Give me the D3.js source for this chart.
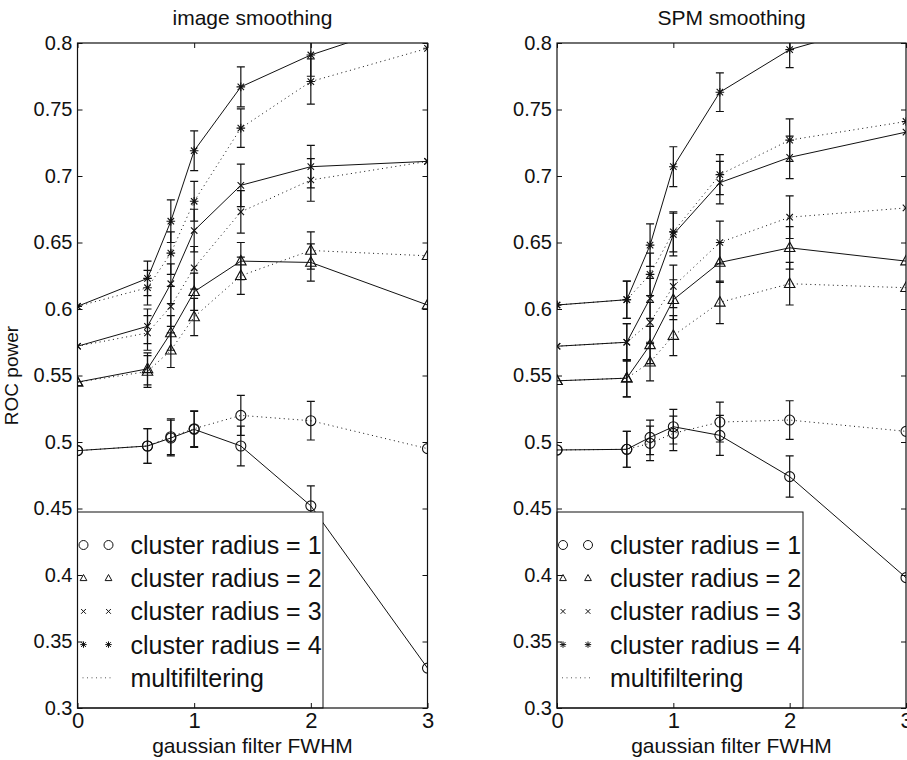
<!DOCTYPE html>
<html>
<head>
<meta charset="utf-8">
<title>ROC power vs gaussian filter FWHM</title>
<script src="https://d3js.org/d3.v7.min.js"></script>
<style>
  body { margin: 0; background: #fff; }
  svg { display: block; font-family: "Liberation Sans", Arial, Helvetica, sans-serif; }
</style>
</head>
<body>
<svg id="chart" width="907" height="760"></svg>
<script>
// x positions shared by every series
const fwhm = [0, 0.6, 0.8, 1, 1.4, 2, 3];
const xTickValues = [0, 1, 2, 3];
const yTickValues = [0.3, 0.35, 0.4, 0.45, 0.5, 0.55, 0.6, 0.65, 0.7, 0.75, 0.8];
const panelTitles = ["image smoothing", "SPM smoothing"];
const legendLabels = ["cluster radius = 1", "cluster radius = 2", "cluster radius = 3", "cluster radius = 4", "multifiltering"];
const markerTypes = ["circle", "triangle", "cross", "star"];

// image smoothing (solid) and multifiltering (dotted)
const imgR1 = [0.4935, 0.497, 0.503, 0.5095, 0.497, 0.452, 0.33];
const imgR1Multi = [0.4935, 0.497, 0.504, 0.510, 0.520, 0.516, 0.495];
const imgR2 = [0.545, 0.555, 0.582, 0.613, 0.636, 0.635, 0.603];
const imgR2Multi = [0.545, 0.553, 0.569, 0.594, 0.625, 0.644, 0.640];
const imgR3 = [0.572, 0.587, 0.619, 0.659, 0.693, 0.707, 0.711];
const imgR3Multi = [0.572, 0.582, 0.602, 0.631, 0.673, 0.697, 0.711];
const imgR4 = [0.602, 0.623, 0.666, 0.719, 0.767, 0.791, 0.82];
const imgR4Multi = [0.602, 0.616, 0.642, 0.681, 0.736, 0.771, 0.796];

const imgR1Err = [0, 0.013, 0.0135, 0.0135, 0.015, 0.015, 0];
const imgR1MultiErr = [0, 0.013, 0.0135, 0.0135, 0.015, 0.0145, 0];
const imgR2Err = [0, 0.012, 0.013, 0.014, 0.014, 0.014, 0];
const imgR2MultiErr = [0, 0.012, 0.013, 0.014, 0.014, 0.014, 0];
const imgR3Err = [0, 0.013, 0.015, 0.016, 0.016, 0.016, 0];
const imgR3MultiErr = [0, 0.013, 0.015, 0.016, 0.016, 0.016, 0];
const imgR4Err = [0, 0.013, 0.016, 0.015, 0.015, 0.016, 0];
const imgR4MultiErr = [0, 0.013, 0.016, 0.015, 0.0145, 0.017, 0];

// SPM smoothing
const spmR1 = [0.494, 0.4945, 0.5035, 0.5115, 0.505, 0.474, 0.398];
const spmR1Multi = [0.494, 0.4945, 0.499, 0.5065, 0.515, 0.5165, 0.508];
const spmR2 = [0.546, 0.548, 0.573, 0.607, 0.635, 0.646, 0.636];
const spmR2Multi = [0.546, 0.548, 0.560, 0.580, 0.605, 0.619, 0.616];
const spmR3 = [0.572, 0.575, 0.608, 0.656, 0.695, 0.714, 0.733];
const spmR3Multi = [0.572, 0.575, 0.590, 0.617, 0.650, 0.669, 0.676];
const spmR4 = [0.603, 0.607, 0.648, 0.707, 0.763, 0.795, 0.82];
const spmR4Multi = [0.603, 0.607, 0.626, 0.658, 0.701, 0.727, 0.741];

const spmR1Err = [0, 0.0135, 0.013, 0.013, 0.015, 0.0155, 0];
const spmR1MultiErr = [0, 0.0135, 0.013, 0.013, 0.015, 0.0145, 0];
const spmR2Err = [0, 0.014, 0.014, 0.015, 0.015, 0.016, 0];
const spmR2MultiErr = [0, 0.014, 0.014, 0.015, 0.016, 0.016, 0];
const spmR3Err = [0, 0.014, 0.015, 0.016, 0.016, 0.016, 0];
const spmR3MultiErr = [0, 0.014, 0.015, 0.016, 0.016, 0.016, 0];
const spmR4Err = [0, 0.014, 0.016, 0.015, 0.0145, 0.0135, 0];
const spmR4MultiErr = [0, 0.014, 0.016, 0.015, 0.015, 0.016, 0];

const panels = [
  {
    id: "img", title: panelTitles[0], left: 77.5, right: 427.5, legendRight: 323, ylabel: true,
    series: [
      [imgR1, imgR1Err, imgR1Multi, imgR1MultiErr],
      [imgR2, imgR2Err, imgR2Multi, imgR2MultiErr],
      [imgR3, imgR3Err, imgR3Multi, imgR3MultiErr],
      [imgR4, imgR4Err, imgR4Multi, imgR4MultiErr]
    ]
  },
  {
    id: "spm", title: panelTitles[1], left: 557, right: 906, legendRight: 803, ylabel: false,
    series: [
      [spmR1, spmR1Err, spmR1Multi, spmR1MultiErr],
      [spmR2, spmR2Err, spmR2Multi, spmR2MultiErr],
      [spmR3, spmR3Err, spmR3Multi, spmR3MultiErr],
      [spmR4, spmR4Err, spmR4Multi, spmR4MultiErr]
    ]
  }
];

const yTop = 43, yBottom = 708;
const ink = "#111";
const svg = d3.select("#chart");

// marker shapes, roughly matching matlab 'o', '^', 'x', '*'
function markerPath(type, s) {
  if (type === "circle") {
    return `M${-s},0a${s},${s} 0 1,0 ${2 * s},0a${s},${s} 0 1,0 ${-2 * s},0`;
  }
  if (type === "triangle") {
    return `M0,${-s * 1.15}L${s * 1.05},${s * 0.75}L${-s * 1.05},${s * 0.75}Z`;
  }
  const a = s * 0.75;
  if (type === "cross") {
    return `M${-a},${-a}L${a},${a}M${-a},${a}L${a},${-a}`;
  }
  return `M${-a},${-a}L${a},${a}M${-a},${a}L${a},${-a}M0,${-s}L0,${s}M${-s},0L${s},0`;
}

function drawPanel(p) {
  const x = d3.scaleLinear().domain([0, 3]).range([p.left, p.right]);
  const y = d3.scaleLinear().domain([0.3, 0.8]).range([yBottom, yTop]);
  const g = svg.append("g");

  g.append("clipPath").attr("id", "clip-" + p.id)
    .append("rect")
    .attr("x", p.left).attr("y", yTop)
    .attr("width", p.right - p.left).attr("height", yBottom - yTop);

  const plot = g.append("g").attr("clip-path", `url(#clip-${p.id})`);
  const line = d3.line().x((d, i) => x(fwhm[i])).y(d => y(d));

  p.series.forEach((s, k) => {
    const variants = [
      { vals: s[0], err: s[1], dash: null },
      { vals: s[2], err: s[3], dash: "1,3.5" }
    ];
    variants.forEach(v => {
      plot.append("path")
        .datum(v.vals)
        .attr("d", line)
        .attr("fill", "none")
        .attr("stroke", ink)
        .attr("stroke-width", 1)
        .attr("stroke-dasharray", v.dash);

      // error bars
      const bars = plot.append("g").attr("stroke", ink).attr("stroke-width", 1.2);
      v.vals.forEach((val, i) => {
        const e = v.err[i];
        if (!e) return;
        const cx = x(fwhm[i]);
        const y1 = y(val - e), y2 = y(val + e);
        bars.append("path")
          .attr("d", `M${cx},${y1}L${cx},${y2}M${cx - 4},${y1}L${cx + 4},${y1}M${cx - 4},${y2}L${cx + 4},${y2}`);
      });

      plot.selectAll(null)
        .data(v.vals)
        .join("path")
        .attr("transform", (d, i) => `translate(${x(fwhm[i])},${y(d)})`)
        .attr("d", markerPath(markerTypes[k], k === 0 ? 5 : (k === 1 ? 5 : 4.3)))
        .attr("fill", "none")
        .attr("stroke", ink)
        .attr("stroke-width", 1.1);
    });
  });

  // legend box
  const lgTop = 512;
  const lg = g.append("g");
  lg.append("rect")
    .attr("x", p.left).attr("y", lgTop)
    .attr("width", p.legendRight - p.left).attr("height", yBottom - lgTop)
    .attr("fill", "#fff").attr("stroke", ink).attr("stroke-width", 1);

  legendLabels.forEach((label, i) => {
    const ry = 545 + i * 33.2;
    if (i < 4) {
      [p.left + 6, p.left + 31].forEach(mx => {
        lg.append("path")
          .attr("transform", `translate(${mx},${ry})`)
          .attr("d", markerPath(markerTypes[i], i === 0 ? 4.5 : 3.2))
          .attr("fill", "none").attr("stroke", ink).attr("stroke-width", 1);
      });
    } else {
      lg.append("line")
        .attr("x1", p.left + 5).attr("x2", p.left + 36)
        .attr("y1", ry).attr("y2", ry)
        .attr("stroke", "#555").attr("stroke-width", 1)
        .attr("stroke-dasharray", "1,3.5");
    }
    lg.append("text")
      .attr("x", p.left + 53).attr("y", ry)
      .attr("dy", "0.36em")
      .attr("font-size", 25)
      .attr("fill", ink)
      .text(label);
  });

  // axes: ticks point inward, mirrored on top and right
  const gx = g.append("g").attr("transform", `translate(0,${yBottom})`)
    .call(d3.axisBottom(x).tickValues(xTickValues).tickFormat(d3.format("d"))
      .tickSizeInner(-5).tickSizeOuter(0).tickPadding(4));
  const gxTop = g.append("g").attr("transform", `translate(0,${yTop})`)
    .call(d3.axisTop(x).tickValues(xTickValues).tickFormat("")
      .tickSizeInner(-5).tickSizeOuter(0));
  const gy = g.append("g").attr("transform", `translate(${p.left},0)`)
    .call(d3.axisLeft(y).tickValues(yTickValues).tickFormat(d3.format("~g"))
      .tickSizeInner(-5).tickSizeOuter(0).tickPadding(5));
  const gyRight = g.append("g").attr("transform", `translate(${p.right},0)`)
    .call(d3.axisRight(y).tickValues(yTickValues).tickFormat("")
      .tickSizeInner(-5).tickSizeOuter(0));

  [gx, gxTop, gy, gyRight].forEach(a => {
    a.attr("font-family", null).attr("font-size", 20);
    a.select(".domain").remove();
    a.selectAll(".tick line").attr("stroke", ink);
    a.selectAll(".tick text").attr("fill", ink);
  });
  gx.attr("font-size", 22);

  g.append("rect")
    .attr("x", p.left).attr("y", yTop)
    .attr("width", p.right - p.left).attr("height", yBottom - yTop)
    .attr("fill", "none").attr("stroke", ink).attr("stroke-width", 1.2);

  const cx = (p.left + p.right) / 2;
  g.append("text")
    .attr("x", cx).attr("y", 25)
    .attr("text-anchor", "middle")
    .attr("font-size", 21).attr("fill", ink)
    .text(p.title);

  g.append("text")
    .attr("x", cx).attr("y", 753)
    .attr("text-anchor", "middle")
    .attr("font-size", 21).attr("fill", ink)
    .text("gaussian filter FWHM");

  if (p.ylabel) {
    g.append("text")
      .attr("transform", `translate(18,${(yTop + yBottom) / 2}) rotate(-90)`)
      .attr("text-anchor", "middle")
      .attr("font-size", 19).attr("fill", ink)
      .text("ROC power");
  }
}

panels.forEach(drawPanel);
</script>
</body>
</html>
